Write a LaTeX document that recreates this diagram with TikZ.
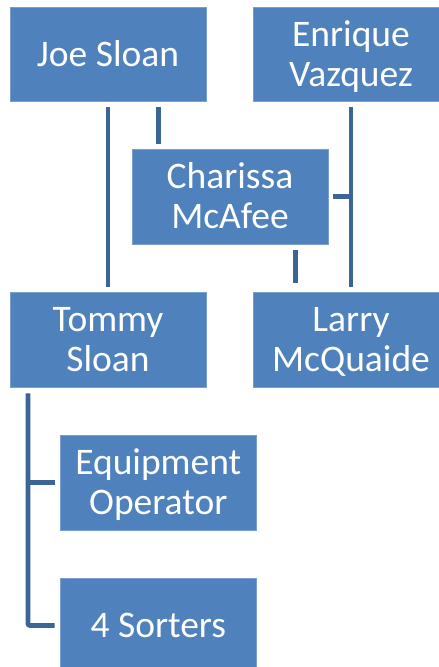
\documentclass[tikz,border=0pt]{standalone}
\usepackage{fontspec}
\setmainfont{Carlito}
\definecolor{boxblue}{HTML}{4F81BD}
\definecolor{boxedge}{HTML}{7A9FCF}
\definecolor{linkblue}{HTML}{3B6596}
\tikzset{
  orgbox/.style={fill=boxblue, draw=boxedge, line width=0.6pt, minimum width=196pt, minimum height=95pt,
    inner sep=0pt, text=white, align=center, font={\fontsize{37.5}{40}\selectfont}, text depth=0pt},
  oneline/.style={text height=24.2pt},
  twoline/.style={text height=64.2pt},
  conn/.style={draw=linkblue, line width=4.8pt, rounded corners=2pt}
}
\begin{document}
\begin{tikzpicture}[x=1pt,y=1pt]
\clip (0,0) rectangle (439,667);
\node[orgbox,oneline,minimum height=94pt] (joe) at (108,613) {Joe Sloan};
\node[orgbox,twoline,minimum height=94pt] (enrique) at (351,613) {Enrique\\Vazquez};
\node[orgbox,twoline] (charissa) at (230,470.5) {Charissa\\McAfee};
\node[orgbox,twoline] (tommy) at (108,327.5) {Tommy\\Sloan};
\node[orgbox,twoline] (larry) at (351,327.5) {Larry\\McQuaide};
\node[orgbox,twoline] (equip) at (158.3,184.5) {Equipment\\Operator};
\node[orgbox,oneline] (sorters) at (158.3,41.5) {4 Sorters};
% connectors
\draw[conn] ([yshift=-6pt]joe.south) -- ([yshift=5pt]tommy.north);
\draw[conn] ([xshift=50.5pt,yshift=-6pt]joe.south) -- ([xshift=-71.5pt,yshift=5pt]charissa.north);
\draw[conn] ([yshift=-6pt]enrique.south) -- ([yshift=5pt]larry.north);
\draw[conn] ([xshift=5pt]charissa.east) -- (charissa.east -| enrique.south);
\draw[conn] ([xshift=65.5pt,yshift=-6pt]charissa.south) -- ([xshift=-55.5pt,yshift=9pt]larry.north);
\coordinate (ttop) at ([xshift=-80pt,yshift=-6pt]tommy.south);
\draw[conn] (ttop) -- (ttop |- sorters.west) -- ([xshift=-5.5pt]sorters.west);
\draw[conn] (ttop |- equip.west) -- ([xshift=-5.5pt]equip.west);
\end{tikzpicture}
\end{document}
